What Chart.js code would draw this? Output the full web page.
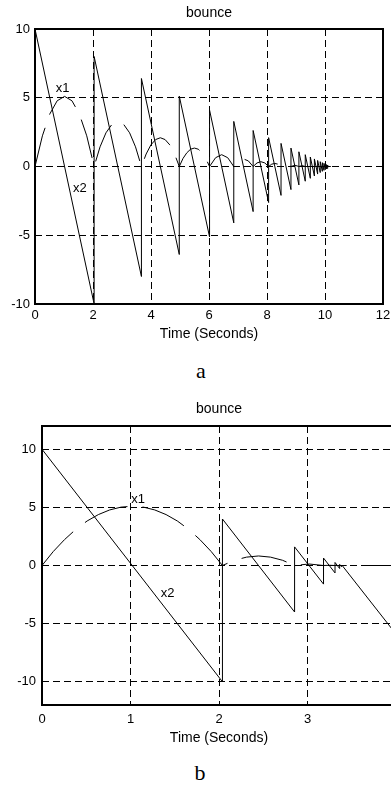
<!DOCTYPE html>
<html>
<head>
<meta charset="utf-8">
<title>bounce</title>
<script src="https://cdn.jsdelivr.net/npm/chart.js@4.4.1/dist/chart.umd.min.js"></script>
<style>
  html, body { margin: 0; padding: 0; width: 391px; height: 789px; overflow: hidden; background: #fff; }
  canvas { position: absolute; left: 0; }
  #chart-a { top: 0; }
  #chart-b { top: 390px; }
  .caption { position: absolute; width: 40px; text-align: center; font: 22px/22px "Liberation Serif", "Times New Roman", serif; color: #000; }
  #cap-a { left: 181px; top: 360px; }
  #cap-b { left: 180px; top: 762px; }
</style>
</head>
<body>
<canvas id="chart-a" width="391" height="350"></canvas>
<div class="caption" id="cap-a">a</div>
<canvas id="chart-b" width="400" height="360"></canvas>
<div class="caption" id="cap-b">b</div>
<script>
// ---- chart a : restitution ~0.8, runs to ~10.2 s ----
const aTicksX = [0, 2, 4, 6, 8, 10, 12];
const aTicksY = [-10, -5, 0, 5, 10];
const aX1Time = [0, 0.255, 0.51, 0.765, 1.02, 1.274, 1.529, 1.784, 2.039,
  2.243, 2.447, 2.651, 2.855, 3.058, 3.262, 3.466, 3.67,
  3.833, 3.996, 4.159, 4.322, 4.485, 4.649, 4.812, 4.975,
  5.105, 5.236, 5.366, 5.497, 5.628, 5.758, 5.889, 6.019,
  6.228, 6.437, 6.645, 6.854, 7.021, 7.188, 7.355, 7.522,
  7.656, 7.789, 7.923, 8.056, 8.163, 8.27, 8.377, 8.484,
  8.655, 8.826, 8.963, 9.1, 9.21, 9.319, 10.2];
const aX1Pos = [0, 2.23, 3.82, 4.78, 5.1, 4.78, 3.82, 2.23, 0,
  1.43, 2.45, 3.06, 3.26, 3.06, 2.45, 1.43, 0,
  0.91, 1.57, 1.96, 2.09, 1.96, 1.57, 0.91, 0,
  0.59, 1.0, 1.26, 1.34, 1.26, 1.0, 0.59, 0,
  0.64, 0.86, 0.64, 0, 0.41, 0.55, 0.41, 0,
  0.26, 0.35, 0.26, 0, 0.17, 0.22, 0.17, 0,
  0.14, 0, 0.09, 0, 0.06, 0, 0];
const aX2Time = [0, 2.039, 2.039, 3.67, 3.67, 4.975, 4.975, 6.019, 6.019, 6.854, 6.854,
  7.522, 7.522, 8.056, 8.056, 8.484, 8.484, 8.826, 8.826, 9.1, 9.1, 9.319, 9.319,
  9.494, 9.494, 9.634, 9.634, 9.746, 9.746, 9.836, 9.836, 9.908, 9.908, 9.965, 9.965,
  10.011, 10.011, 10.048, 10.048, 10.078, 10.078, 10.1, 10.1, 10.2];
const aX2Vel = [10, -10, 8, -8, 6.4, -6.4, 5.12, -5.12, 4.1, -4.1, 3.28,
  -3.28, 2.62, -2.62, 2.1, -2.1, 1.68, -1.68, 1.34, -1.34, 1.07, -1.07, 0.86,
  -0.86, 0.69, -0.69, 0.55, -0.55, 0.44, -0.44, 0.35, -0.35, 0.28, -0.28, 0.23,
  -0.23, 0.18, -0.18, 0.14, -0.14, 0.11, -0.11, 0, 0];
const aLabelText = ['x1', 'x2'];
const aLabelX = [0.95, 1.55];
const aLabelY = [5.7, -1.56];

// ---- chart b : restitution ~0.4, zoomed to 0..4 s ----
const bTicksX = [0, 1, 2, 3, 4];
const bTicksY = [-10, -5, 0, 5, 10];
const bX1Time = [0, 0.127, 0.255, 0.382, 0.51, 0.637, 0.765, 0.892, 1.02, 1.147, 1.274,
  1.402, 1.529, 1.657, 1.784, 1.912, 2.039,
  2.175, 2.311, 2.447, 2.582, 2.718, 2.854, 3.017, 3.181, 3.246, 3.311, 4];
const bX1Pos = [0, 1.2, 2.23, 3.11, 3.83, 4.38, 4.78, 5.02, 5.1, 5.02, 4.78,
  4.38, 3.83, 3.11, 2.23, 1.2, 0,
  0.45, 0.72, 0.82, 0.72, 0.45, 0, 0.13, 0, 0.02, 0, 0];
const bX2Time = [0, 2.039, 2.039, 2.854, 2.854, 3.181, 3.181, 3.311, 3.311,
  3.363, 3.363, 3.384, 3.384, 3.392, 3.392, 4];
const bX2Vel = [10, -10, 4, -4, 1.6, -1.6, 0.64, -0.64, 0.26,
  -0.26, 0.1, -0.1, 0.04, -0.04, 0, -5.9];
const bLabelText = ['x1', 'x2'];
const bLabelX = [1.085, 1.42];
const bLabelY = [5.65, -2.44];

const FONT = '"Liberation Sans", Arial, Helvetica, sans-serif';
Chart.defaults.font.family = FONT;
Chart.defaults.color = '#000';

function toPoints(xs, ys) {
  return xs.map((x, i) => ({ x: x, y: ys[i] }));
}

function buildChart(id, d, box) {
  // box frame + x1/x2 text labels placed through the scales
  const framePlugin = {
    id: 'frame',
    afterDatasetsDraw(chart) {
      const { ctx, chartArea: a, scales } = chart;
      ctx.save();
      ctx.strokeStyle = '#000';
      ctx.lineWidth = 2;
      ctx.strokeRect(a.left, a.top, a.right - a.left, a.bottom - a.top);
      ctx.font = '13px ' + FONT;
      ctx.fillStyle = '#000';
      ctx.textAlign = 'center';
      ctx.textBaseline = 'middle';
      d.labelText.forEach((t, i) => {
        ctx.fillText(t, scales.x.getPixelForValue(d.labelX[i]), scales.y.getPixelForValue(d.labelY[i]));
      });
      ctx.restore();
    }
  };

  return new Chart(document.getElementById(id), {
    type: 'scatter',
    data: {
      datasets: [
        { label: 'x2', data: toPoints(d.x2t, d.x2v), showLine: true, borderColor: '#000',
          borderWidth: 1, pointRadius: 0 },
        { label: 'x1', data: toPoints(d.x1t, d.x1v), showLine: true, borderColor: '#000',
          borderWidth: 1, pointRadius: 0, borderDash: box.dash }
      ]
    },
    options: {
      responsive: false,
      animation: false,
      events: [],
      layout: { padding: { right: box.padRight } },
      plugins: {
        legend: { display: false },
        tooltip: { enabled: false },
        title: { display: true, text: 'bounce', fullSize: false, color: '#000',
          font: { size: 14, weight: 'normal' }, padding: box.titlePad }
      },
      scales: {
        x: {
          type: 'linear',
          min: d.ticksX[0],
          max: d.ticksX[d.ticksX.length - 1],
          afterBuildTicks: s => { s.ticks = d.ticksX.map(v => ({ value: v })); },
          afterFit: s => {
            s.height = box.xHeight;
            // let layout.padding alone decide the right edge
            s.paddingLeft = 0;
            s.paddingRight = 0;
          },
          ticks: { font: { size: 13 }, padding: box.xTickPad, maxRotation: 0, autoSkip: false, color: '#000' },
          grid: { color: '#000', lineWidth: 1, drawTicks: false },
          border: { display: false, dash: [7, 4] },
          title: { display: true, text: 'Time (Seconds)', color: '#000', font: { size: 14 },
            padding: { top: 0, bottom: box.xTitlePad } }
        },
        y: {
          type: 'linear',
          min: box.yMin,
          max: box.yMax,
          afterBuildTicks: s => { s.ticks = d.ticksY.map(v => ({ value: v })); },
          afterFit: s => { s.width = box.yWidth; },
          ticks: { font: { size: 13 }, padding: box.yTickPad, autoSkip: false, color: '#000' },
          grid: { color: '#000', lineWidth: 1, drawTicks: false },
          border: { display: false, dash: [7, 4] }
        }
      }
    },
    plugins: [framePlugin]
  });
}

buildChart('chart-a', {
  ticksX: aTicksX, ticksY: aTicksY,
  x1t: aX1Time, x1v: aX1Pos, x2t: aX2Time, x2v: aX2Vel,
  labelText: aLabelText, labelX: aLabelX, labelY: aLabelY
}, {
  yMin: -10, yMax: 10, dash: [40, 14], padRight: 8,
  titlePad: { top: 4.6, bottom: 7.6 },
  yWidth: 35, yTickPad: 5, xHeight: 46, xTickPad: 4, xTitlePad: 7
});

buildChart('chart-b', {
  ticksX: bTicksX, ticksY: bTicksY,
  x1t: bX1Time, x1v: bX1Pos, x2t: bX2Time, x2v: bX2Vel,
  labelText: bLabelText, labelX: bLabelX, labelY: bLabelY
}, {
  yMin: -12, yMax: 12, dash: [46, 15], padRight: 4,
  titlePad: { top: 10.6, bottom: 8.6 },
  yWidth: 42, yTickPad: 6, xHeight: 45, xTickPad: 7, xTitlePad: 3.6
});
</script>
</body>
</html>
